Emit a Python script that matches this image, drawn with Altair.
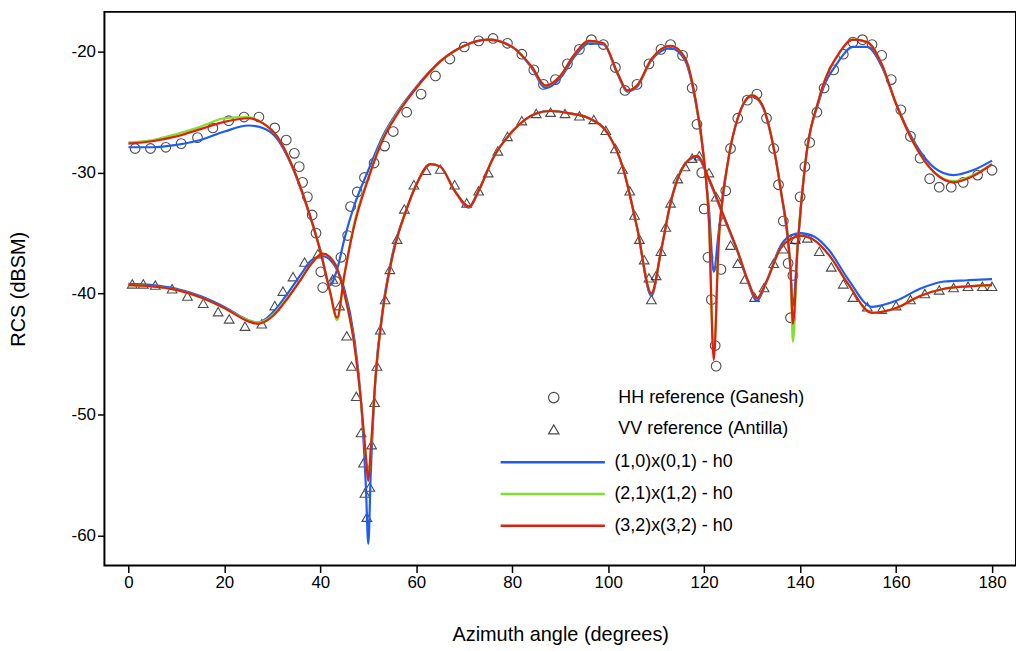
import pandas as pd
import altair as alt

# HH curves
hh_ang = [0, 5, 10, 15, 20, 25, 28, 31, 34, 37, 40, 42, 43.5, 45, 47, 50, 53, 56, 60, 65, 70, 75, 80, 84, 87, 90,
          93, 96, 99, 102, 104, 106, 109, 113, 116, 118, 120, 121, 122, 123, 125, 127, 130, 132, 134, 136, 138,
          138.5, 139.5, 141, 144, 148, 151, 154, 157, 160, 164, 168, 172, 176, 180]
hh_red = [-27.6, -27.4, -27.0, -26.4, -25.8, -25.5, -25.9, -27.0, -29.3, -32.5, -36.5, -39.8, -42.0, -38.5, -34.5,
          -30.5, -27.3, -25.2, -23.0, -20.8, -19.5, -19.0, -19.6, -21.2, -22.8, -22.0, -20.2, -19.1, -19.3, -21.8,
          -23.2, -22.8, -20.6, -19.5, -20.5, -23.5, -29.0, -34.0, -45.5, -36.0, -29.0, -25.5, -23.6, -24.3, -27.0,
          -31.5, -38.0, -42.5, -36.0, -29.5, -23.8, -20.2, -19.0, -19.2, -21.0, -24.3, -27.8, -30.0, -30.8, -30.3, -29.3]
hh_green = [-27.5, -27.3, -26.8, -26.2, -25.5, -25.4, -25.9, -27.0, -29.3, -32.5, -36.5, -39.8, -42.2, -38.5, -34.3,
            -30.4, -27.2, -25.1, -23.0, -20.8, -19.5, -19.0, -19.6, -21.2, -22.8, -22.0, -20.2, -19.1, -19.3, -21.8,
            -23.2, -22.8, -20.6, -19.5, -20.5, -23.5, -29.0, -34.0, -45.0, -36.0, -29.0, -25.5, -23.6, -24.3, -27.0,
            -31.5, -38.0, -44.0, -36.0, -29.5, -23.8, -20.2, -19.0, -19.2, -21.0, -24.3, -27.8, -30.0, -30.7, -30.2, -29.3]
hh_blue = [-27.9, -27.9, -27.7, -27.3, -26.6, -26.1, -26.3, -27.2, -29.4, -32.6, -36.4, -39.3, -38.0, -35.5, -32.8,
           -29.8, -27.0, -25.0, -22.9, -20.8, -19.5, -19.0, -19.6, -21.3, -23.0, -22.2, -20.4, -19.3, -19.4, -21.9,
           -23.3, -22.9, -20.7, -19.7, -20.7, -23.7, -29.0, -33.0, -38.2, -35.0, -29.0, -25.5, -23.7, -24.4, -27.0,
           -31.5, -38.0, -41.0, -36.0, -29.5, -24.0, -20.8, -19.6, -19.6, -21.2, -24.3, -27.6, -29.6, -30.2, -29.8, -29.0]

# VV curves
vv_ang = [0, 5, 10, 15, 20, 25, 27, 30, 33, 36, 38, 40.5, 43, 45, 47, 48.5, 49.5, 50, 50.5, 51.5, 53, 55, 58, 60, 63,
          65, 68, 71, 73, 76, 80, 85, 88, 92, 96, 100, 103, 106, 109, 111, 113, 116, 118.5, 121, 124, 127, 129, 131,
          133, 136, 138, 140, 143, 146, 150, 155, 160, 165, 170, 175, 180]
vv_red = [-39.3, -39.4, -39.7, -40.3, -41.2, -42.3, -42.5, -41.9, -40.5, -38.8, -37.6, -36.7, -37.5, -40.0, -44.0,
          -49.0, -53.5, -55.5, -53.0, -47.0, -41.5, -37.0, -33.0, -31.0, -29.3, -29.5, -31.5, -32.8, -31.5, -28.8,
          -26.6, -25.1, -24.9, -25.1, -25.5, -26.8, -29.5, -34.5, -40.0, -36.5, -32.5, -29.3, -28.6, -30.5, -33.5,
          -36.5, -38.8, -40.4, -39.0, -36.2, -35.5, -35.2, -35.6, -36.8, -39.2, -41.6, -41.2, -40.2, -39.6, -39.4, -39.3]
vv_green = [-39.3, -39.4, -39.7, -40.3, -41.2, -42.2, -42.4, -41.8, -40.4, -38.8, -37.6, -36.7, -37.5, -40.0, -44.0,
            -49.0, -53.5, -55.3, -53.0, -47.0, -41.5, -37.0, -33.0, -31.0, -29.3, -29.5, -31.5, -32.8, -31.5, -28.8,
            -26.6, -25.1, -24.9, -25.1, -25.5, -26.8, -29.5, -34.5, -40.0, -36.5, -32.5, -29.3, -28.6, -30.5, -33.5,
            -36.5, -38.8, -40.4, -39.0, -36.2, -35.5, -35.2, -35.6, -36.8, -39.2, -41.6, -41.2, -40.2, -39.6, -39.4, -39.3]
vv_blue = [-39.2, -39.3, -39.6, -40.2, -41.1, -42.2, -42.4, -41.6, -40.1, -38.4, -37.3, -36.9, -37.7, -39.6, -43.5,
           -49.0, -56.0, -60.7, -55.0, -47.0, -41.3, -36.8, -33.0, -31.0, -29.3, -29.5, -31.5, -32.9, -31.5, -28.8,
           -26.6, -25.1, -24.9, -25.1, -25.5, -26.8, -29.5, -34.5, -40.2, -36.5, -32.5, -29.3, -28.7, -30.6, -33.6,
           -36.6, -38.9, -40.6, -39.0, -36.0, -35.2, -35.0, -35.3, -36.4, -38.8, -41.1, -40.6, -39.6, -39.0, -38.9, -38.8]

# HH reference (Ganesh)
ref_hh_ang = [1.4, 4.6, 7.8, 11, 14.4, 17.6, 20.9, 24.1, 27.2, 30.5, 32.9, 34.6, 35.6, 36.3, 37.3, 38.3, 39.1, 40.1,
              40.5, 43.2, 44.3, 45.7, 46.3, 47.7, 49.2, 51.2, 53.4, 55.2, 58, 61, 64, 67, 70, 73, 76, 79, 82, 84.5,
              86.5, 89, 91.5, 94, 96.5, 99, 101.5, 103.5, 106, 108.5, 111, 113, 115.5, 117.5, 118.5, 119.5, 120,
              120.8, 121.5, 122.3, 122.5, 123.5, 124.5, 125.5, 127, 129, 131, 133, 134.5, 135.5, 136.5, 137.5, 138,
              138.5, 139, 140, 141, 142, 143.5, 145, 147, 149, 151, 153, 155, 157, 159, 161, 163, 165, 167, 169,
              171.5, 174, 177, 180]
ref_hh_val = [-28.0, -28.0, -27.9, -27.6, -27.1, -26.3, -25.7, -25.4, -25.4, -26.3, -27.3, -28.4, -29.5, -30.8, -32.0,
              -33.5, -35.0, -38.2, -39.5, -39.0, -37.0, -35.2, -32.8, -31.6, -30.4, -29.2, -27.8, -26.6, -25.0, -23.5,
              -22.0, -20.6, -19.6, -19.1, -18.9, -19.3, -20.2, -21.5, -22.7, -22.3, -21.0, -19.8, -19.0, -19.4, -21.3,
              -23.2, -22.7, -21.0, -19.8, -19.4, -20.3, -23.0, -26.0, -30.0, -33.0, -37.0, -40.5, -44.3, -46.0, -38.0,
              -31.5, -28.0, -25.5, -24.0, -23.5, -25.5, -28.0, -31.0, -34.0, -37.5, -42.0, -38.5, -35.5, -32.0, -29.5,
              -27.5, -25.0, -23.0, -21.5, -20.2, -19.2, -19.0, -19.4, -20.3, -22.3, -24.8, -27.0, -28.8, -30.5, -31.2,
              -31.2, -30.8, -30.2, -29.8]

# VV reference (Antilla)
ref_vv_ang = [0.8, 3.1, 5.6, 9.1, 12.3, 15.6, 18.7, 21, 24.3, 27.8, 30.5, 32.2, 34.3, 36.7, 39.5, 42.6, 44, 45.5,
              46.5, 47.5, 48.5, 49, 49.3, 49.7, 50.3, 50.7, 51.3, 51.8, 52.5, 53.5, 54.5, 56, 57.5, 59.5, 62, 65, 68,
              70.5, 73, 75, 77, 79, 82, 85, 88, 91, 94, 97, 99.5, 101.5, 103, 104.5, 105.5, 106.5, 107.5, 108.5, 109,
              110, 111, 112, 113, 114.5, 116, 117.5, 119, 121, 122.5, 124, 125.5, 127, 128.5, 130.5, 132.5, 134.5,
              136.5, 139, 141.5, 144, 146.5, 149, 151, 154, 157, 160, 163, 166, 169, 172, 175, 178, 180]
ref_vv_val = [-39.2, -39.2, -39.3, -39.6, -40.2, -40.8, -41.5, -42.1, -42.7, -42.5, -41.0, -39.8, -38.6, -37.4, -36.7,
              -38.8, -41.0, -43.5, -46.0, -48.5, -51.5, -54.0, -56.5, -58.5, -56.0, -52.5, -49.0, -46.0, -43.0, -40.5,
              -38.0, -35.5, -33.0, -31.0, -29.8, -29.7, -31.0, -32.5, -31.5, -30.0, -28.2, -27.0, -25.7, -25.1, -25.0,
              -25.1, -25.3, -25.6, -26.5, -28.0, -29.7, -31.5, -33.5, -35.5, -37.2, -38.7, -40.5, -38.5, -36.5, -34.5,
              -32.5, -30.5, -29.5, -28.8, -28.6, -30.0, -32.0, -34.0, -36.0, -37.5, -38.8, -40.3, -39.5, -37.5, -36.3,
              -35.5, -35.4, -36.5, -37.8, -39.2, -40.3, -41.1, -41.3, -41.0, -40.5, -40.0, -39.7, -39.5, -39.4, -39.4,
              -39.4]

line_names = ['(1,0)x(0,1) - h0', '(2,1)x(1,2) - h0', '(3,2)x(3,2) - h0']
line_colors = ['#1f5cf0', '#7fe030', '#e0200c']
ref_names = ['HH reference (Ganesh)', 'VV reference (Antilla)']

rows = []
for name, hh, vv in zip(line_names, [hh_blue, hh_green, hh_red], [vv_blue, vv_green, vv_red]):
    for a, v in zip(hh_ang, hh):
        rows.append({'angle': a, 'rcs': v, 'series': name, 'curve': name + ' HH'})
    for a, v in zip(vv_ang, vv):
        rows.append({'angle': a, 'rcs': v, 'series': name, 'curve': name + ' VV'})
lines_df = pd.DataFrame(rows)

pts = [{'angle': a, 'rcs': v, 'ref': ref_names[0]} for a, v in zip(ref_hh_ang, ref_hh_val)]
pts += [{'angle': a, 'rcs': v, 'ref': ref_names[1]} for a, v in zip(ref_vv_ang, ref_vv_val)]
pts_df = pd.DataFrame(pts)

x_enc = alt.X('angle:Q', title='Azimuth angle (degrees)',
              scale=alt.Scale(domain=[-5, 185], nice=False, zero=False),
              axis=alt.Axis(values=list(range(0, 181, 20)), grid=False, titlePadding=34))
y_enc = alt.Y('rcs:Q', title='RCS (dBSM)',
              scale=alt.Scale(domain=[-62.5, -16.7], nice=False, zero=False),
              axis=alt.Axis(values=[-60, -50, -40, -30, -20], grid=False, titlePadding=43,
                            labelExpr="replace(datum.label, '\u2212', '-')"))

points = alt.Chart(pts_df).mark_point(filled=False, color='black', size=95, strokeWidth=1.1).encode(
    x=x_enc, y=y_enc,
    shape=alt.Shape('ref:N', scale=alt.Scale(domain=ref_names, range=['circle', 'triangle-up']),
                    legend=alt.Legend(title=None, orient='none', legendX=443, legendY=379,
                                      labelFontSize=18, symbolSize=110, symbolStrokeColor='black',
                                      symbolStrokeWidth=1.2, rowPadding=14, labelOffset=56,
                                      clipHeight=18, labelLimit=0))
)

lines = alt.Chart(lines_df).mark_line(strokeWidth=2.2, interpolate='monotone').encode(
    x=x_enc, y=y_enc,
    detail='curve:N',
    order='angle:Q',
    color=alt.Color('series:N', scale=alt.Scale(domain=line_names, range=line_colors),
                    legend=alt.Legend(title=None, orient='none', legendX=397, legendY=444,
                                      labelFontSize=18, symbolType='stroke', symbolSize=11000,
                                      symbolStrokeWidth=2.5, rowPadding=14, labelOffset=8,
                                      clipHeight=18, labelLimit=0))
)

chart = alt.layer(points, lines).resolve_legend(shape='independent', color='independent').properties(
    width=917, height=557,
    padding={'left': 0, 'top': 2, 'right': 0, 'bottom': 0}
).configure_view(
    stroke='black', strokeWidth=2
).configure_axis(
    labelFont='Liberation Sans', titleFont='Liberation Sans',
    labelFontSize=17, titleFontSize=20, titleFontWeight='normal',
    labelColor='black', titleColor='black', domain=False,
    tickColor='black', tickWidth=1.5, tickSize=7
).configure_legend(
    labelFont='Liberation Sans', labelColor='black'
)

chart.save("out.html", embed_options={"renderer": "svg", "actions": False})
